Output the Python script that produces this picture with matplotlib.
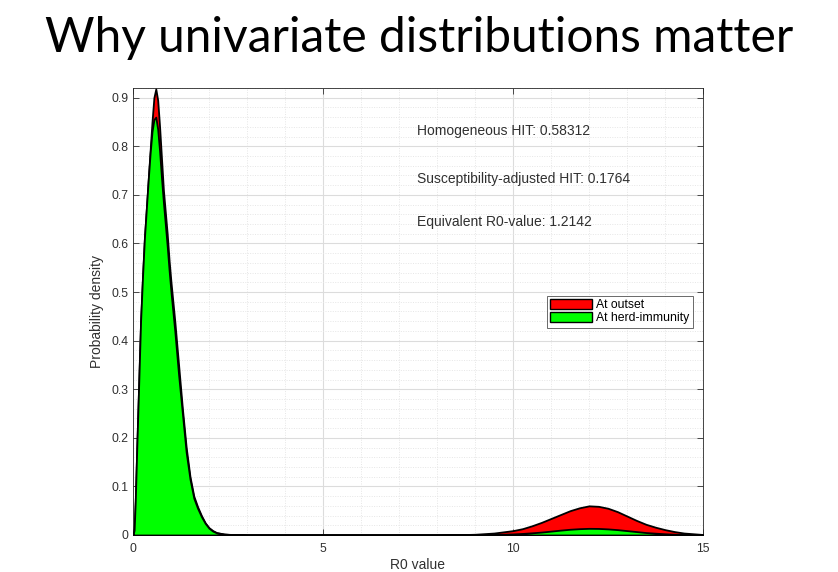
import matplotlib
matplotlib.use("Agg")
import matplotlib.pyplot as plt
import matplotlib.patches as mpatches
from matplotlib.ticker import MultipleLocator

# R0 grid
r0 = [0, 0.03, 0.06, 0.1, 0.15, 0.2, 0.25, 0.3, 0.35, 0.4, 0.45, 0.5, 0.55, 0.6,
      0.65, 0.7, 0.75, 0.8, 0.85, 0.9, 0.95, 1.0, 1.1, 1.2, 1.3, 1.4, 1.5, 1.6,
      1.7, 1.8, 1.9, 2.0, 2.1, 2.2, 2.4, 2.6, 3.0, 4.0, 5.0, 6.0, 7.0, 8.0, 8.5,
      9.0, 9.5, 10.0, 10.25, 10.5, 10.75, 11.0, 11.25, 11.5, 11.75, 12.0, 12.25,
      12.5, 12.75, 13.0, 13.25, 13.5, 13.75, 14.0, 14.25, 14.5, 15.0]

# density at outset
dens_outset = [0, 0.01, 0.07, 0.18, 0.31, 0.44, 0.53, 0.61, 0.67, 0.73, 0.79, 0.85,
               0.90, 0.918, 0.895, 0.84, 0.775, 0.71, 0.665, 0.62, 0.565, 0.52, 0.44,
               0.35, 0.26, 0.18, 0.12, 0.08, 0.058, 0.040, 0.025, 0.015, 0.009,
               0.005, 0.002, 0.001, 0, 0, 0, 0, 0, 0, 0.0005,
               0.0015, 0.004, 0.009, 0.013, 0.019, 0.026, 0.034, 0.042, 0.050,
               0.056, 0.060, 0.059, 0.055, 0.048, 0.039, 0.030, 0.022, 0.016,
               0.011, 0.007, 0.004, 0.001]

# density at herd immunity
dens_herd = [0, 0.01, 0.07, 0.18, 0.31, 0.44, 0.53, 0.61, 0.67, 0.73, 0.785, 0.83,
             0.855, 0.86, 0.835, 0.79, 0.735, 0.685, 0.64, 0.595, 0.545, 0.50, 0.42,
             0.33, 0.25, 0.17, 0.115, 0.076, 0.055, 0.038, 0.024, 0.014, 0.008,
             0.0045, 0.0018, 0.0008, 0, 0, 0, 0, 0, 0, 0.0001,
             0.0004, 0.001, 0.0022, 0.0032, 0.0045, 0.006, 0.008, 0.010, 0.0118,
             0.013, 0.0137, 0.0135, 0.0125, 0.011, 0.009, 0.007, 0.005, 0.0037,
             0.0025, 0.0016, 0.0009, 0.0002]

notes = ["Homogeneous HIT: 0.58312",
         "Susceptibility-adjusted HIT: 0.1764",
         "Equivalent R0-value: 1.2142"]
note_y = [0.832, 0.733, 0.645]

txt = "#303030"
plt.rcParams['font.family'] = ['Liberation Sans', 'DejaVu Sans']
fig = plt.figure(figsize=(8.38, 5.72), dpi=100)
fig.text(0.5, 0.934, "Why univariate distributions matter", ha="center", va="center",
         fontsize=34.5, family="Lato", color="black")

ax = fig.add_axes([0.1587, 0.0647, 0.6802, 0.7815])
ax.fill_between(r0, dens_outset, color="#ff0000", edgecolor="black", linewidth=1.3, zorder=3)
ax.fill_between(r0, dens_herd, color="#00ff00", edgecolor="black", linewidth=1.3, zorder=4)

ax.set_xlim(0, 15)
ax.set_ylim(0, 0.92)
ax.xaxis.set_major_locator(MultipleLocator(5))
ax.xaxis.set_minor_locator(MultipleLocator(1))
ax.yaxis.set_minor_locator(MultipleLocator(0.02))
ax.set_yticks([0.1 * i for i in range(10)])
ax.set_yticklabels(["0"] + ["%.1f" % (0.1 * i) for i in range(1, 10)])
ax.grid(True, which="major", color="#dcdcdc", linewidth=0.8, zorder=0)
ax.grid(True, which="minor", color="#e6e6e6", linewidth=0.7, linestyle=(0, (1, 1.5)), zorder=0)
ax.set_axisbelow(True)
ax.tick_params(which="both", direction="in", top=True, right=True, labelsize=8.8,
               colors=txt, labelcolor=txt)
ax.tick_params(which="minor", length=0)
ax.tick_params(which="major", length=4, width=0.6)
ax.tick_params(axis="x", pad=6)
for s in ax.spines.values():
    s.set_color("#262626")
    s.set_linewidth(0.6)
ax.set_xlabel("R0 value", fontsize=10, color=txt, labelpad=2)
ax.set_ylabel("Probability density", fontsize=10, color=txt, labelpad=5)

for t, yv in zip(notes, note_y):
    ax.text(7.47, yv, t, fontsize=10, color=txt, va="center", zorder=6)

handles = [mpatches.Patch(facecolor="#ff0000", edgecolor="black", label="At outset"),
           mpatches.Patch(facecolor="#00ff00", edgecolor="black", label="At herd-immunity")]
leg = ax.legend(handles=handles, loc="lower left", bbox_to_anchor=(0.726, 0.463),
                fontsize=8.8, frameon=True, fancybox=False, borderpad=0.3,
                handlelength=3.4, handleheight=0.9, handletextpad=0.3, labelspacing=0.05,
                borderaxespad=0)
leg.get_frame().set_edgecolor("#262626")
leg.get_frame().set_linewidth(0.6)
leg.set_zorder(7)

fig.savefig("out.png", dpi=100)
